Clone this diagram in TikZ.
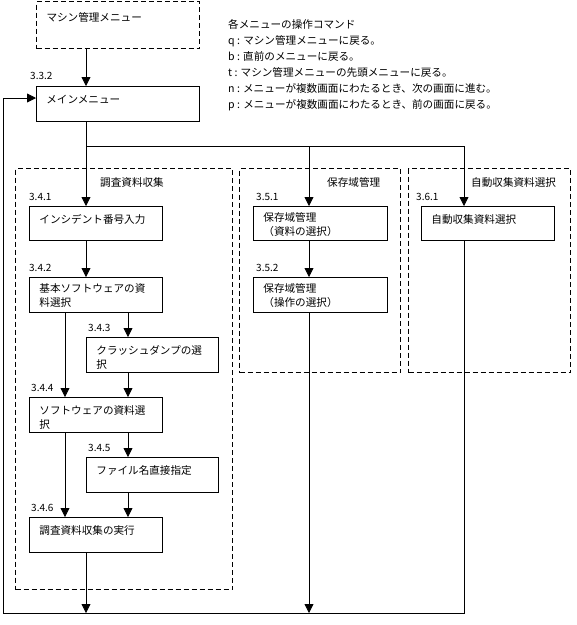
\documentclass[tikz,border=0pt]{standalone}
\usepackage{fontspec}
\setmainfont{Noto Sans CJK JP}
\usetikzlibrary{arrows.meta}
\newcommand\bxt[4][17pt]{\parbox[c][#3][t]{#2}{\leftskip=10pt\rule{0pt}{#1}#4}}
\tikzset{
  x=1pt, y=-1pt,
  base/.style={line width=0.8pt},
  pbox/.style={draw, base, anchor=north west, inner sep=0pt},
  dbox/.style={draw, line width=1pt, dash pattern=on 5pt off 3pt, anchor=north west, inner sep=0pt},
  grp/.style={draw, line width=1pt, dash pattern=on 5pt off 3pt},
  lab/.style={anchor=base west, inner sep=0pt, font=\fontsize{10}{12}\selectfont},
  ttl/.style={anchor=base west, inner sep=0pt},
  arr/.style={base, -{Triangle[length=9pt,width=9pt]}},
  ln/.style={base}
}
\begin{document}
\begin{tikzpicture}[font=\fontsize{10.6}{14}\selectfont]
\useasboundingbox (0,0) rectangle (577,625);

% groups
\node[grp, minimum width=217pt, minimum height=421pt, anchor=north west, inner sep=0pt] (g1) at (15,168) {};
\node[grp, minimum width=161pt, minimum height=204pt, anchor=north west, inner sep=0pt] (g2) at (239,168) {};
\node[grp, line width=1.3pt, minimum width=162pt, minimum height=204pt, anchor=north west, inner sep=0pt] (g3) at (408,168) {};
\node[ttl] (t1) at (100,186) {調査資料収集};
\node[ttl] (t2) at (327,186) {保存域管理};
\node[ttl] (t3) at (471,186) {自動収集資料選択};

% top
\node[dbox] (mach) at (36,1) {\bxt[20pt]{163pt}{47pt}{マシン管理メニュー}};
\node[pbox] (main) at (36,86) {\bxt{163pt}{35pt}{メインメニュー}};
\node[lab] (l332) at (30,79) {3.3.2};

% note
\node[anchor=north west, align=left, inner sep=0pt, font=\fontsize{10.6}{16}\selectfont] (note) at (228,19)
{各メニューの操作コマンド\\
q : マシン管理メニューに戻る。\\
b : 直前のメニューに戻る。\\
t : マシン管理メニューの先頭メニューに戻る。\\
n : メニューが複数画面にわたるとき、次の画面に進む。\\
p : メニューが複数画面にわたるとき、前の画面に戻る。};

% group 1 boxes
\node[pbox] (b341) at (29,206) {\bxt{133pt}{34pt}{インシデント番号入力}};
\node[pbox] (b342) at (29,277) {\bxt[15pt]{133pt}{35pt}{基本ソフトウェアの資\\料選択}};
\node[pbox] (b343) at (86,337) {\bxt{132pt}{35pt}{クラッシュダンプの選\\択}};
\node[pbox] (b344) at (29,397) {\bxt{133pt}{35pt}{ソフトウェアの資料選\\択}};
\node[pbox] (b345) at (86,457) {\bxt{132pt}{35pt}{ファイル名直接指定}};
\node[pbox] (b346) at (29,517) {\bxt{133pt}{35pt}{調査資料収集の実行}};
\node[lab] (l341) at (29,200) {3.4.1};
\node[lab] (l342) at (29,271) {3.4.2};
\node[lab] (l343) at (88,331) {3.4.3};
\node[lab] (l344) at (31,391) {3.4.4};
\node[lab] (l345) at (88,451) {3.4.5};
\node[lab] (l346) at (31,511) {3.4.6};

% group 2,3 boxes
\node[pbox] (b351) at (253,206) {\bxt[15pt]{134pt}{34pt}{保存域管理\\（資料の選択）}};
\node[pbox] (b352) at (253,277) {\bxt[15pt]{134pt}{35pt}{保存域管理\\（操作の選択）}};
\node[pbox] (b361) at (421,206) {\bxt{133pt}{34pt}{自動収集資料選択}};
\node[lab] (l351) at (256,200) {3.5.1};
\node[lab] (l352) at (256,271) {3.5.2};
\node[lab] (l361) at (416,200) {3.6.1};

% helper coordinates
\coordinate (xa) at (86,0);
\coordinate (xl) at (65,0);
\coordinate (xr) at (128,0);
\coordinate (xb) at (309,0);
\coordinate (xc) at (464,0);
\coordinate (xret) at (3,0);
\coordinate (ybr) at (0,146);
\coordinate (ybot) at (0,613);
\coordinate (yret) at (0,98);

% connectors
\draw[arr] (mach.south -| xa) -- (main.north -| xa);
\draw[ln] (main.south -| xa) -- (ybr -| xa) -- (ybr -| xc);
\draw[arr] (ybr -| xa) -- (b341.north -| xa);
\draw[arr] (ybr -| xb) -- (b351.north -| xb);
\draw[arr] (ybr -| xc) -- (b361.north -| xc);

\draw[arr] (b341.south -| xa) -- (b342.north -| xa);
\draw[arr] (b342.south -| xl) -- (b344.north -| xl);
\draw[arr] (b342.south -| xr) -- (b343.north -| xr);
\draw[arr] (b343.south -| xr) -- (b344.north -| xr);
\draw[arr] (b344.south -| xl) -- (b346.north -| xl);
\draw[arr] (b344.south -| xr) -- (b345.north -| xr);
\draw[arr] (b345.south -| xr) -- (b346.north -| xr);
\draw[arr] (b346.south -| xa) -- (ybot -| xa);

\draw[arr] (b351.south -| xb) -- (b352.north -| xb);
\draw[arr] (b352.south -| xb) -- (ybot -| xb);

\draw[arr] (b361.south -| xc) -- (ybot -| xc) -- (ybot -| xret) -- (yret -| xret) -- (main.west |- yret);
\end{tikzpicture}
\end{document}
